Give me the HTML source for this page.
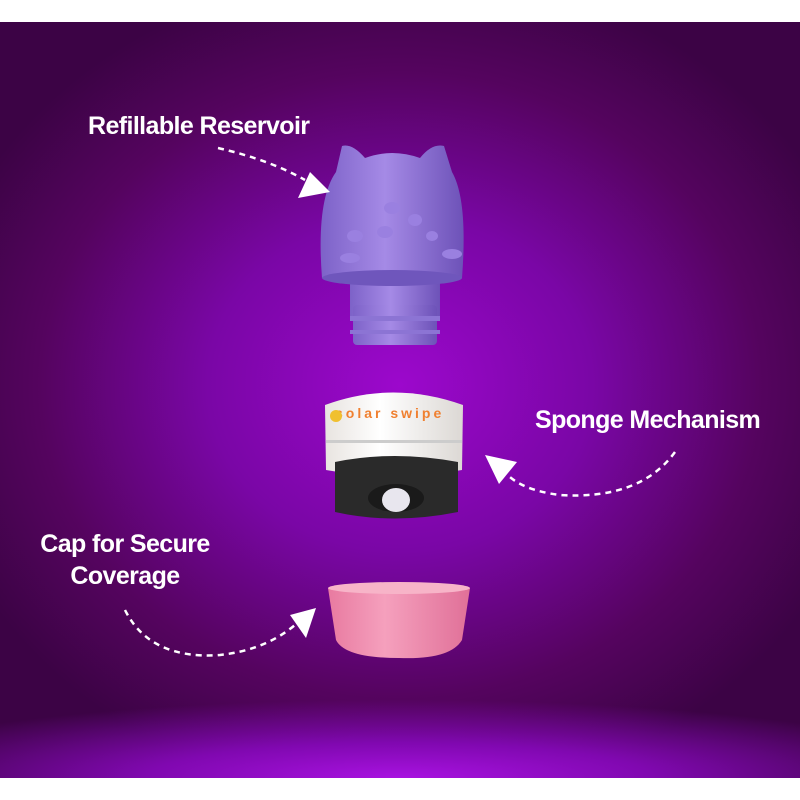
<!DOCTYPE html>
<html><head><style>
html,body{margin:0;padding:0}
body{width:800px;height:800px;background:#fff;position:relative;overflow:hidden;font-family:"Liberation Sans",sans-serif}
#bg{position:absolute;left:0;top:22px;width:800px;height:756px;
background:radial-gradient(ellipse 60% 55% at 50% 48%,#9c08cc 0%,#7a06a6 40%,#55045f 75%,#3c0345 100%);}
#glow{position:absolute;left:0;top:680px;width:800px;height:98px;background:radial-gradient(ellipse 70% 80% at 50% 100%,#a812e0 0%,#8008b0 45%,rgba(80,4,100,0) 100%)}
.lbl{position:absolute;color:#fff;font-weight:bold;font-size:25px;letter-spacing:-0.6px;text-align:center;white-space:nowrap}
</style></head><body>
<div id="bg"></div><div id="glow"></div>
<svg width="800" height="800" style="position:absolute;left:0;top:0">
<defs>
<linearGradient id="pur" x1="0" x2="1"><stop offset="0" stop-color="#7d62c8"/><stop offset=".45" stop-color="#a58ae6"/><stop offset="1" stop-color="#6d52b8"/></linearGradient>
<linearGradient id="wh" x1="0" x2="1"><stop offset="0" stop-color="#e8e4e0"/><stop offset=".4" stop-color="#fff"/><stop offset="1" stop-color="#dcd8d4"/></linearGradient>
<linearGradient id="pk" x1="0" x2="1"><stop offset="0" stop-color="#e87aa0"/><stop offset=".4" stop-color="#f5a0bd"/><stop offset="1" stop-color="#e07098"/></linearGradient>
</defs>
<rect x="350" y="275" width="90" height="45" fill="url(#pur)"/>
<rect x="353" y="305" width="84" height="40" rx="4" fill="url(#pur)"/>
<rect x="350" y="316" width="90" height="5" fill="#8c74d4"/>
<rect x="350" y="330" width="90" height="4" fill="#8c74d4"/>
<path d="M322 278 Q316 200 336 172 L342 146 Q352 143 365 158 Q392 148 420 158 Q432 143 444 146 L452 172 Q468 200 462 278 Q392 290 322 278Z" fill="url(#pur)"/>
<ellipse cx="392" cy="278" rx="70" ry="8" fill="#6f56bc"/>
<g fill="#9a80e0"><ellipse cx="355" cy="236" rx="8" ry="6"/><ellipse cx="385" cy="232" rx="8" ry="6"/><ellipse cx="415" cy="220" rx="7" ry="6"/><ellipse cx="432" cy="236" rx="6" ry="5"/><ellipse cx="350" cy="258" rx="10" ry="5"/><ellipse cx="452" cy="254" rx="10" ry="5"/><ellipse cx="392" cy="208" rx="8" ry="6"/></g>
<path d="M325 405 Q393 380 463 405 L462 470 Q393 482 326 470Z" fill="url(#wh)"/>
<rect x="326" y="440" width="136" height="3" fill="#ccc"/>
<text x="335" y="418" font-family="Liberation Sans" font-size="14" font-weight="bold" fill="#f08030" letter-spacing="3">solar swipe</text>
<circle cx="336" cy="416" r="6" fill="#f0c030"/>
<path d="M335 462 Q393 450 458 462 L458 512 Q393 525 335 512Z" fill="#2a2a2a"/>
<ellipse cx="396" cy="498" rx="28" ry="14" fill="#1a1a1a"/>
<ellipse cx="396" cy="500" rx="14" ry="12" fill="#e8e6ee"/>
<path d="M328 588 Q399 578 470 588 L462 640 Q450 660 399 658 Q345 658 336 640Z" fill="url(#pk)"/>
<ellipse cx="399" cy="588" rx="71" ry="6" fill="#f7b4c8"/>
<g fill="none" stroke="#fff" stroke-width="2.5" stroke-dasharray="6 5">
<path d="M218 148 Q270 160 305 180"/>
<path d="M675 452 Q640 500 560 495 Q520 490 505 472"/>
<path d="M125 610 Q150 660 220 655 Q265 650 295 625"/>
</g>
<g fill="#fff">
<polygon points="330,192 298,198 310,172"/>
<polygon points="485,455 517,462 499,484"/>
<polygon points="316,608 306,638 290,615"/>
</g>
</svg>
<div class="lbl" style="left:88px;top:112px">Refillable Reservoir</div>
<div class="lbl" style="left:535px;top:406px">Sponge Mechanism</div>
<div class="lbl" style="left:25px;top:528px;line-height:32px;width:200px">Cap for Secure<br>Coverage</div>
</body></html>
